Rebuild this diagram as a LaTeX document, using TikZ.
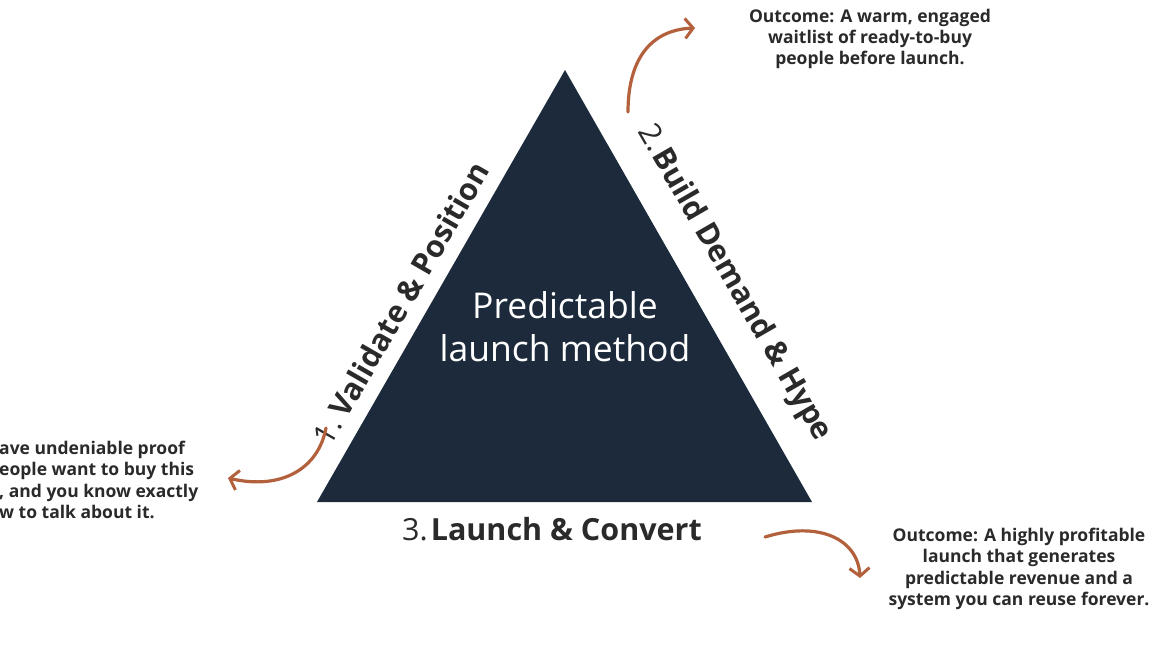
\documentclass[tikz,border=0pt]{standalone}
\usepackage{fontspec}
\setmainfont{Open Sans}
\usetikzlibrary{arrows.meta}
\definecolor{navy}{HTML}{1C2A3B}
\definecolor{ink}{HTML}{2A2A2A}
\definecolor{rust}{HTML}{B3613C}
\begin{document}
\begin{tikzpicture}[x=1pt,y=1pt,
  outcome/.style={font=\fontsize{17.5}{21.3}\selectfont\bfseries, text=ink, inner sep=0pt},
  steplabel/.style={font=\fontsize{30.5}{34}\selectfont, text=ink, inner sep=0pt},
  curvy/.style={draw=rust, line width=3.2pt, line cap=round, -{Straight Barb[length=8pt,width=20pt,line width=3pt]}}]
\useasboundingbox (0,0) rectangle (1155,649);
\fill[white] (0,0) rectangle (1155,649);
% triangle
\coordinate (apex) at (565,579);
\coordinate (bl) at (317,147);
\coordinate (br) at (812,147);
\fill[navy] (apex) -- (bl) -- (br) -- cycle;
\node[font=\fontsize{35.5}{43}\selectfont, text=white, align=center, inner sep=0pt] (core) at (565,322) {Predictable\\launch method};
% step labels
\node[steplabel, rotate=60] (s1) at (401,346) {1.\hspace{0.2em}\textbf{Validate \& Position}};
\node[steplabel, rotate=-60] (s2) at (734,366) {2.\hspace{0.08em}\textbf{Build Demand \& Hype}};
\node[steplabel, anchor=base] (s3) at (552,109) {3.\hspace{0.1em}\textbf{Launch \& Convert}};
% outcomes
\node[outcome, align=center] (o2) at (870,610) {Outcome: A warm, engaged\\waitlist of ready-to-buy\\people before launch.};
\node[outcome, align=left, anchor=west] (o1) at (-1,169) {ave undeniable proof\\eople want to buy this\\, and you know exactly\\w to talk about it.};
\node[outcome, align=center] (o3) at (1019,80) {Outcome: A highly profitable\\launch that generates\\predictable revenue and a\\system you can reuse forever.};
% arrows
\coordinate (a2s) at (628,537);
\coordinate (a2e) at (695,621);
\draw[curvy] (a2s) .. controls (628,589) and (650,619) .. (a2e);
\coordinate (a1s) at (326,221);
\coordinate (a1e) at (228,171);
\draw[curvy] (a1s) .. controls (318,179) and (280,159) .. (a1e);
\coordinate (a3s) at (765,112);
\coordinate (a3e) at (860,71);
\draw[curvy] (a3s) .. controls (820,129) and (858,109) .. (a3e);
\end{tikzpicture}
\end{document}
